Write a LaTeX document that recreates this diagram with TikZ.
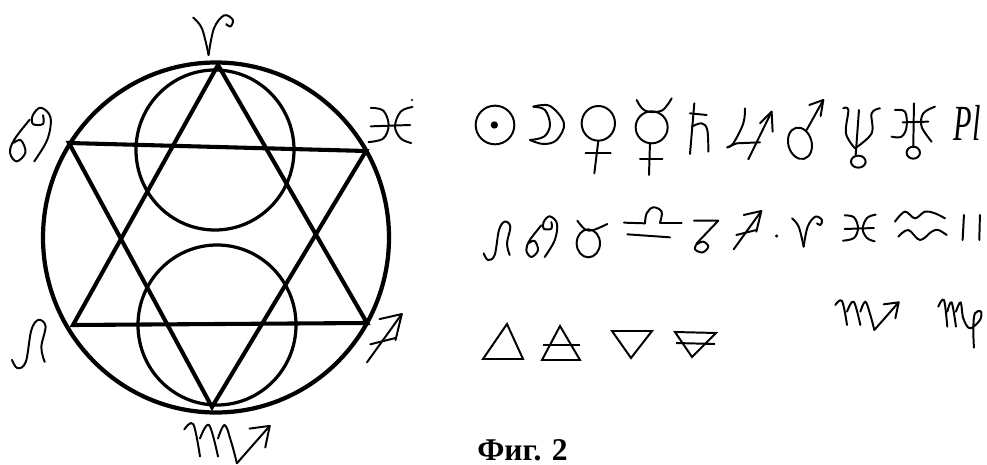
\documentclass[tikz,border=0pt]{standalone}
\usepackage{fontspec}
\setmainfont{Liberation Serif}
\tikzset{
    star/.style={line width=2.9pt, line join=miter},
    ring/.style={line width=2.3pt},
    hand/.style={line width=1.4pt, line cap=round, line join=round},
    element/.style={line width=1.4pt, line join=miter},
    pics/leosign/.style={code={
        \draw[hand] plot [smooth, tension=0.6] coordinates {(-43,40) (-30,60) (-10,45) (3,-30) (20,-55) (37,-40) (27,10) (35,45)};
    }},
    pics/cancersign/.style={code={
        \draw[hand] plot [smooth, tension=0.6] coordinates {(-5,-35) (-40,10) (-50,40) (-35,60) (-15,40) (-25,12) (-42,18)};
        \draw[hand] plot [smooth, tension=0.6] coordinates {(5,60) (35,10) (42,-40) (20,-62) (2,-45) (2,-25) (25,-25) (25,-45)};
    }},
    pics/sagittariussign/.style={code={
        \draw[hand] (-43,58) -- (40,-57);
        \draw[hand] (-13,-45) -- (40,-57) -- (25,5);
        \draw[hand] (-35,15) -- (25,0);
    }},
    pics/ariessign/.style={code={
        \draw[hand] plot [smooth, tension=0.6] coordinates {(-45,-35) (-25,-10) (-10,50)};
        \draw[hand] plot [smooth, tension=0.6] coordinates {(-10,50) (2,-10) (25,-40) (45,-30) (40,-15) (30,-20)};
    }},
    pics/piscessign/.style={code={
        \draw[hand] plot [smooth, tension=0.6] coordinates {(-43,-38) (-15,-32) (-3,0) (-15,30) (-48,38)};
        \draw[hand] plot [smooth, tension=0.6] coordinates {(50,-40) (24,-30) (11,3) (24,30) (47,40)};
        \draw[hand] (-43,3) -- (45,0);
    }},
    pics/scorpiosign/.style={code={
        \draw[hand] plot [smooth, tension=0.6] coordinates {(-95,-30) (-75,-42) (-60,30)};
        \draw[hand] plot [smooth, tension=0.6] coordinates {(-60,-10) (-40,-40) (-20,30)};
        \draw[hand] plot [smooth, tension=0.6] coordinates {(-20,-10) (-5,-40) (10,0) (22,45)};
        \draw[hand] (22,45) -- (95,-38);
        \draw[hand] (50,-32) -- (95,-38) -- (85,10);
    }}
}
\begin{document}
\begin{tikzpicture}[x=0.025cm, y=-0.025cm]
    \useasboundingbox (0,0) rectangle (987,465);
    % rings
    \draw[line width=3pt] (216,237.5) ellipse (173 and 175);
    \draw[ring] (215,150) ellipse (79 and 80);
    \draw[ring] (217,325) ellipse (79 and 80);
    % star
    \draw[star] (218,65) -- (367,323) -- (73,325) -- cycle;
    \draw[star] (69,143) -- (366,151) -- (212,407) -- cycle;
    % signs round the ring
    \pic[scale=0.44] at (213,33) {ariessign};
    \pic[scale=0.45] at (390,125) {piscessign};
    \fill (412,100) circle (1.2);
    \pic[scale=0.44] at (32,135) {cancersign};
    \pic[scale=0.42] at (30,343) {leosign};
    \pic[scale=0.42] at (385,338) {sagittariussign};
    \pic[scale=0.45] at (227,443) {scorpiosign};
    % planets
    \begin{scope}[shift={(470,90)}, scale=0.3333]
        \draw[hand] (75,105) circle (58);
        \fill (73,105) circle (11);
        \draw[hand] plot [smooth, tension=0.6] coordinates {(190,50) (240,48) (282,100) (260,150) (220,162) (180,150)};
        \draw[hand] plot [smooth, tension=0.6] coordinates {(190,50) (225,60) (240,105) (222,140) (180,150)};
        \draw[hand] (385,100) ellipse (50 and 52);
        \draw[hand] (385,152) -- (373,250);
        \draw[hand] (347,190) -- (422,190);
        \draw[hand] plot [smooth, tension=0.6] coordinates {(500,30) (525,62) (575,62) (605,25)};
        \draw[hand] (545,112) ellipse (48 and 48);
        \draw[hand] (540,160) -- (537,255);
        \draw[hand] (510,208) -- (577,208);
        \draw[hand] (673,40) -- (660,192);
        \draw[hand] (660,70) -- (710,75);
        \draw[hand] plot [smooth, tension=0.6] coordinates {(665,110) (695,100) (712,120) (715,185)};
        \draw[hand] plot [smooth, tension=0.6] coordinates {(825,55) (820,100) (790,160) (772,172)};
        \draw[hand] (772,172) -- (800,160) -- (870,157);
        \draw[hand] (835,208) -- (905,65);
        \draw[hand] (870,100) -- (905,65) -- (908,125);
        \draw[hand, rotate around={15:(990,160)}] (990,160) ellipse (35 and 48);
        \draw[hand] (1010,120) -- (1060,30);
        \draw[hand] (1018,45) -- (1060,30) -- (1052,78);
        \draw[hand] plot [smooth, tension=0.6] coordinates {(1120,55) (1135,60) (1128,130) (1155,175)};
        \draw[hand] plot [smooth, tension=0.6] coordinates {(1230,55) (1205,70) (1205,130) (1155,175)};
        \draw[hand] (1167,60) -- (1157,198);
        \draw[hand] (1165,215) ellipse (22 and 18);
        \draw[hand] plot [smooth, tension=0.6] coordinates {(1275,60) (1305,65) (1310,110) (1295,140) (1265,140)};
        \draw[hand] plot [smooth, tension=0.6] coordinates {(1395,50) (1360,70) (1355,110) (1385,155)};
        \draw[hand] (1298,97) -- (1375,95);
        \draw[hand] (1332,40) -- (1330,170);
        \draw[hand] (1330,188) ellipse (20 and 18);
    \end{scope}
    \node[inner sep=0pt, xscale=0.6, font=\itshape\fontsize{36pt}{36pt}\selectfont] (pluto) at (967,123) {Pl};
    % second row
    \pic[scale=0.3333] at (498,240) {leosign};
    \pic[scale=0.3333] at (543,237) {cancersign};
    \pic[scale=0.3333] at (748,230) {sagittariussign};
    \pic[scale=0.3333] at (807,230) {ariessign};
    \pic[scale=0.3333] at (859,228) {piscessign};
    \begin{scope}[shift={(470,200)}, scale=0.3333]
        % taurus
        \draw[hand] plot [smooth, tension=0.6] coordinates {(322,62) (345,88) (370,90) (412,72)};
        \draw[hand] (355,130) ellipse (35 and 42);
        % libra
        \draw[hand] plot [smooth, tension=0.6] coordinates {(525,70) (530,40) (550,22) (575,35) (570,68)};
        \draw[hand] (462,68) -- (525,70);
        \draw[hand] (570,68) -- (635,68);
        \draw[hand] (472,103) -- (600,112);
        % capricorn
        \draw[hand] (672,62) -- (745,62) -- (682,128);
        \draw[hand] plot [smooth, tension=0.6] coordinates {(682,128) (675,148) (698,157) (715,140) (700,125) (682,132)};
        \fill (920,108) circle (5);
        % aquarius
        \draw[hand] plot [smooth, tension=0.6] coordinates {(1275,65) (1305,35) (1335,55) (1365,35) (1395,40) (1425,55)};
        \draw[hand] plot [smooth, tension=0.6] coordinates {(1285,110) (1315,90) (1350,120) (1385,95) (1405,90) (1430,105)};
        % gemini
        \draw[hand] (1482,45) -- (1478,120);
        \draw[hand] (1530,45) -- (1528,120);
    \end{scope}
    % third row
    \pic[scale=0.3333] at (867,315) {scorpiosign};
    \begin{scope}[shift={(470,295)}, scale=0.3333]
        % virgo
        \draw[hand] plot [smooth, tension=0.6] coordinates {(1405,35) (1422,15) (1432,95)};
        \draw[hand] plot [smooth, tension=0.6] coordinates {(1432,50) (1445,22) (1458,95)};
        \draw[hand] plot [smooth, tension=0.6] coordinates {(1458,50) (1472,22) (1480,70) (1500,100) (1530,75) (1533,50) (1515,55) (1510,100) (1512,158)};
    \end{scope}
    % elements
    \draw[element] (507,324) -- (483,359) -- (523,359) -- cycle;
    \draw[element] (560,326) -- (542,360) -- (580,360) -- cycle;
    \draw[element] (543,345) -- (580,345);
    \draw[element] (612,331) -- (652,331) -- (631,358) -- cycle;
    \draw[element] (675,332) -- (716,333) -- (692,357) -- cycle;
    \draw[element] (676,343) -- (715,344);
    % caption
    \node[inner sep=0pt, anchor=base west, font=\bfseries\fontsize{22.5pt}{22.5pt}\selectfont] (caption) at (477,460) {Фиг. 2};
\end{tikzpicture}
\end{document}
